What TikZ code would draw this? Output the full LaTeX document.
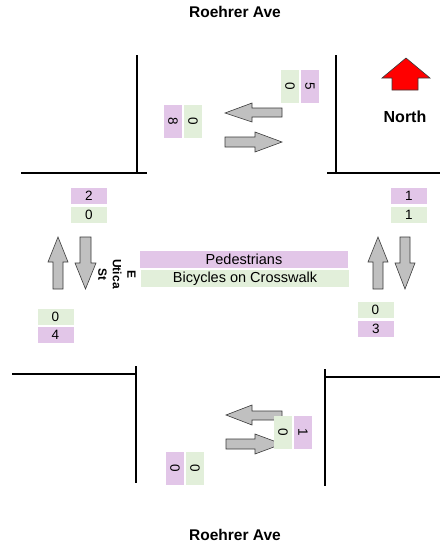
\documentclass[tikz,border=0pt]{standalone}
\usepackage{fontspec}
\setmainfont{Liberation Sans}
\usepackage{tikz}
\usetikzlibrary{positioning}
\definecolor{pedpurple}{HTML}{E2C6E8}
\definecolor{bikegreen}{HTML}{E2EFDA}
\definecolor{arrowgrey}{HTML}{C0C0C0}
\definecolor{edgegrey} {HTML}{3A3A3A}

\begin{document}
\begin{tikzpicture}[x=1pt,y=-1pt,
    curb/.style={black, line width=1.6pt},
    flow/.style={fill=arrowgrey, draw=edgegrey, line width=0.6pt, line join=miter},
    cnt/.style={inner sep=0pt, font=\fontsize{13.5}{15}\selectfont},
    hcnt/.style={cnt, minimum width=36pt, minimum height=16pt},
    vcnt/.style={cnt, rotate=-90, minimum width=33pt, minimum height=18pt},
    ped/.style={fill=pedpurple},
    bike/.style={fill=bikegreen},
    street/.style={font=\fontsize{15.5}{17}\selectfont\bfseries}]
  \useasboundingbox (0,0) rectangle (441,550);
  % street names
  \node[street] (topname) at (235,12) {Roehrer Ave};
  \node[street] (botname) at (235,535) {Roehrer Ave};
  \node[font=\fontsize{12}{14.5}\selectfont\bfseries, rotate=-90, align=center]
       (wname) at (117,274) {E\\Utica\\St};
  % curbs
  \draw[curb] (21,173) -- (147,173);  \draw[curb] (137,55) -- (137,173);
  \draw[curb] (327,173) -- (440,173); \draw[curb] (336,55) -- (336,173);
  \draw[curb] (12,374) -- (136,374);  \draw[curb] (136,366) -- (136,483);
  \draw[curb] (325,377) -- (440,377); \draw[curb] (325,369) -- (325,486);
  % north arrow
  \draw[fill=red, draw=edgegrey, line width=0.6pt]
    (406,58) -- (430,78) -- (418,78) -- (418,90) -- (392,90) -- (392,78) -- (382,78) -- cycle;
  \node[font=\fontsize{16}{18}\selectfont\bfseries] (north) at (405,117) {North};
  % north leg movements
  \draw[flow] (225,113) -- (252,103) -- (252,108) -- (282,108) -- (282,117) -- (252,117) -- (252,122) -- cycle;
  \draw[flow] (282,142) -- (255,132) -- (255,137) -- (225,137) -- (225,147) -- (255,147) -- (255,152) -- cycle;
  % south leg movements
  \draw[flow] (226,415) -- (252,405) -- (252,411) -- (282,411) -- (282,420) -- (252,420) -- (252,425) -- cycle;
  \draw[flow] (282,444) -- (255,434) -- (255,439) -- (226,439) -- (226,449) -- (255,449) -- (255,454) -- cycle;
  % west leg movements
  \draw[flow] (58,237) -- (68,262) -- (63,262) -- (63,289) -- (53,289) -- (53,262) -- (48,262) -- cycle;
  \draw[flow] (85.5,289) -- (96,263) -- (91,263) -- (91,237) -- (80,237) -- (80,263) -- (75,263) -- cycle;
  % east leg movements
  \draw[flow] (378,237) -- (388,262) -- (383,262) -- (383,289) -- (373,289) -- (373,262) -- (368,262) -- cycle;
  \draw[flow] (405,289) -- (415,263) -- (410,263) -- (410,237) -- (400,237) -- (400,263) -- (395,263) -- cycle;
  % counts, north
  \node[vcnt, bike] (nbike) at (290,86.5) {0};
  \node[vcnt, ped]  (nped)  at (310,86.5) {5};
  \node[vcnt, ped]  (nwped)  at (173,121) {8};
  \node[vcnt, bike] (nwbike) at (193,121) {0};
  % counts, south
  \node[vcnt, bike] (sbike) at (283,432.5) {0};
  \node[vcnt, ped]  (sped)  at (303,432.5) {1};
  \node[vcnt, ped]  (swped)  at (175,468) {0};
  \node[vcnt, bike] (swbike) at (195,468) {0};
  % counts, west
  \node[hcnt, ped]  (wped)  at (89,196) {2};
  \node[hcnt, bike] (wbike) at (89,215) {0};
  \node[hcnt, bike] (wsbike) at (55.5,316.5) {0};
  \node[hcnt, ped]  (wsped)  at (55.5,335) {4};
  % counts, east
  \node[hcnt, ped]  (eped)  at (409,195.5) {1};
  \node[hcnt, bike] (ebike) at (409,214.5) {1};
  \node[hcnt, bike] (esbike) at (375.5,309.5) {0};
  \node[hcnt, ped]  (esped)  at (376,328.5) {3};
  % legend
  \node[cnt, ped,  minimum width=208pt, minimum height=17pt, font=\fontsize{14.5}{16}\selectfont]
       (legped) at (244,259.5) {Pedestrians};
  \node[cnt, bike, minimum width=208pt, minimum height=17pt, font=\fontsize{14.5}{16}\selectfont]
       (legbike) at (245,278.5) {Bicycles on Crosswalk};
\end{tikzpicture}
\end{document}
